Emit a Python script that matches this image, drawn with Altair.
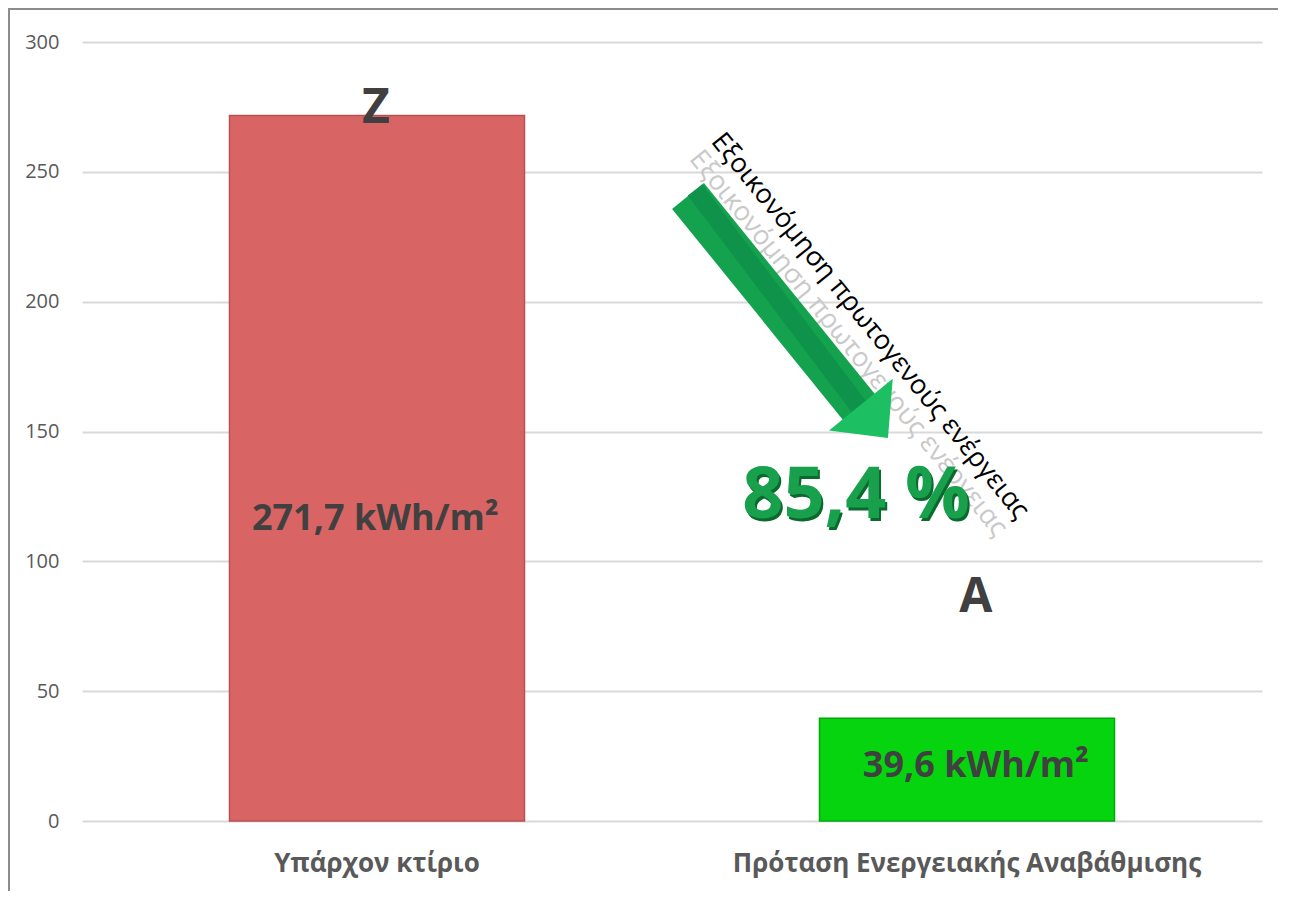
import altair as alt
import pandas as pd

# ---- data ----
categories = ["Υπάρχον κτίριο", "Πρόταση Ενεργειακής Αναβάθμισης"]
values = [271.7, 39.6]
bar_colors = ["#D96464", "#06D40E"]
bar_strokes = ["#B85050", "#02A80A"]

value_labels = ["271,7 kWh/m²", "39,6 kWh/m²"]
value_label_x = [0.497, 1.515]      # position along the category axis (0..2)
value_label_y = [112, 17]

energy_classes = ["Z", "A"]
class_x = [0.498, 1.515]
class_y = [268.8, 80.5]

saving_text = ["85,4 %"]
saving_x = [1.312]
saving_y = [116.7]

caption = ["Εξοικονόμηση πρωτογενούς ενέργειας"]
caption_x = [1.3356]
caption_y = [190.6]
reflection_x = [1.2986]
reflection_y = [183.9]

arrow_x = [1.0271, 1.3220]
arrow_y = [240.7, 158.0]
head_x = [1.342]
head_y = [154.2]

y_ticks = [0, 50, 100, 150, 200, 250, 300]

W, H = 1180, 779
FONT = "Open Sans"

bars_df = pd.DataFrame({"category": categories, "value": values, "color": bar_colors, "stroke": bar_strokes})
vlab_df = pd.DataFrame({"lx": value_label_x, "ly": value_label_y, "text": value_labels})
cls_df = pd.DataFrame({"lx": class_x, "ly": class_y, "text": energy_classes})
sav_df = pd.DataFrame({"lx": saving_x, "ly": saving_y, "text": saving_text})
cap_df = pd.DataFrame({"lx": caption_x, "ly": caption_y, "text": caption})
ref_df = pd.DataFrame({"lx": reflection_x, "ly": reflection_y, "text": caption})
arrow_df = pd.DataFrame({"lx": [arrow_x[0]], "ly": [arrow_y[0]], "lx2": [arrow_x[1]], "ly2": [arrow_y[1]]})
head_df = pd.DataFrame({"lx": head_x, "ly": head_y})
frame_df = pd.DataFrame({"a": [0]})

yscale = alt.Scale(domain=[0, 300], nice=False)
xq = alt.Scale(domain=[0, 2], nice=False, zero=False)

frame_top = alt.Chart(frame_df).mark_rule(stroke="#8c8c8c", strokeWidth=2).encode(
    x=alt.value(-74), x2=alt.value(W + 40), y=alt.value(-33)
)
frame_left = alt.Chart(frame_df).mark_rule(stroke="#8c8c8c", strokeWidth=2).encode(
    x=alt.value(-73), y=alt.value(-34), y2=alt.value(H + 80)
)

bars = alt.Chart(bars_df).mark_bar(strokeWidth=1.5).encode(
    x=alt.X("category:N", sort=categories,
            scale=alt.Scale(paddingInner=0.5, paddingOuter=0.25),
            axis=alt.Axis(title=None, labelAngle=0, labelFont=FONT, labelFontWeight="bold",
                          labelFontSize=26, labelColor="#595959", labelPadding=29, labelLimit=0,
                          domain=False, ticks=False, grid=False)),
    y=alt.Y("value:Q", scale=yscale,
            axis=alt.Axis(title=None, values=y_ticks, labelFont=FONT, labelFontSize=20,
                          labelColor="#595959", labelPadding=23, domain=False, ticks=False,
                          grid=True, gridColor="#d9d9d9", gridWidth=2)),
    color=alt.Color("color:N", scale=None),
    stroke=alt.Stroke("stroke:N", scale=None),
)

def txt(df, **kw):
    return alt.Chart(df).mark_text(font=FONT, **kw).encode(
        x=alt.X("lx:Q", scale=xq, axis=None),
        y=alt.Y("ly:Q", scale=yscale, title=None),
        text="text:N",
    )

vlabels = txt(vlab_df, fontSize=36, fontWeight="bold", color="#404040", baseline="alphabetic")
classes = txt(cls_df, fontSize=48, fontWeight="bold", color="#404040", baseline="alphabetic")
reflection = txt(ref_df, fontSize=27, color="#c9c9c9", angle=51, baseline="middle")
caption_t = txt(cap_df, fontSize=27, color="#000000", angle=51, baseline="middle")
sav_shadow = txt(sav_df, fontSize=72, fontWeight="bold", color="#0a6a2e", baseline="alphabetic", dx=2, dy=3)
sav_main = txt(sav_df, fontSize=72, fontWeight="bold", color="#18a04c", baseline="alphabetic")

shaft = alt.Chart(arrow_df).mark_rule(strokeWidth=41, strokeCap="butt", color="#14a24e").encode(
    x=alt.X("lx:Q", scale=xq, axis=None),
    y=alt.Y("ly:Q", scale=yscale, title=None),
    x2="lx2:Q", y2="ly2:Q",
)
shaft_dark = alt.Chart(arrow_df).mark_rule(strokeWidth=18, strokeCap="butt", color="#0f934a",
                                           xOffset=7, yOffset=-6).encode(
    x=alt.X("lx:Q", scale=xq, axis=None),
    y=alt.Y("ly:Q", scale=yscale, title=None),
    x2="lx2:Q", y2="ly2:Q",
)
head = alt.Chart(head_df).mark_point(
    shape="M-0.5,-1L0.55,0L-0.5,1Z", filled=True, size=6724, angle=51,
    color="#1cbf62", opacity=1, strokeWidth=0,
).encode(
    x=alt.X("lx:Q", scale=xq, axis=None),
    y=alt.Y("ly:Q", scale=yscale, title=None),
)

chart = alt.layer(
    frame_top, frame_left, bars, vlabels, classes, reflection, shaft, shaft_dark, head,
    caption_t, sav_shadow, sav_main
).resolve_scale(x="independent").properties(
    width=W, height=H,
    autosize=alt.AutoSizeParams(type="none"),
    padding={"left": 74, "top": 34, "right": 16, "bottom": 70},
    background="white",
).configure_view(stroke=None)

chart.save("out.html", embed_options={"renderer": "svg", "actions": False})
